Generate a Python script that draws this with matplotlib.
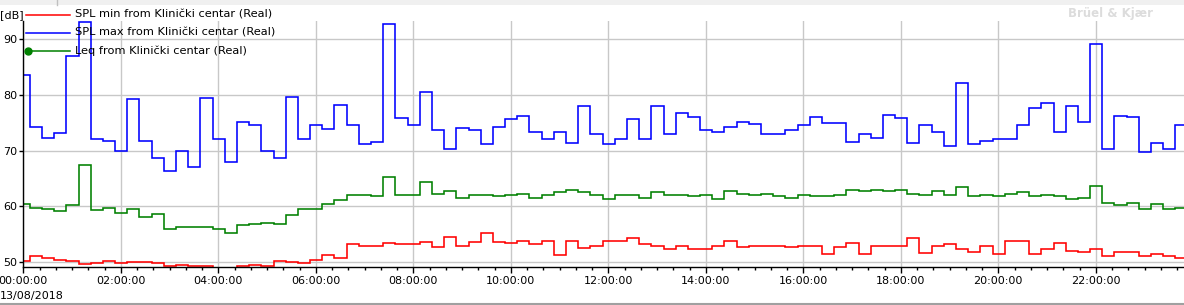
import numpy as np
import matplotlib
matplotlib.use('Agg')
import matplotlib.pyplot as plt
from matplotlib.lines import Line2D
from matplotlib.patches import Rectangle

# 15 minute intervals, first one starts at 23:53 of the previous day (-7 min)
first_edge_min = -7
step_min = 15

spl_max = [83.6, 74.3, 72.3, 73.2, 87.0, 93.1, 72.0, 71.7, 70.0, 79.3,
           71.8, 68.75, 66.4, 70.0, 67.0, 79.5, 72.0, 68.0, 75.2, 74.6,
           70.0, 68.75, 79.6, 72.1, 74.6, 73.9, 78.2, 74.5, 71.25, 71.6,
           92.7, 75.9, 74.6, 80.5, 73.75, 70.2, 74.1, 73.75, 71.1, 74.3,
           75.7, 76.25, 73.4, 72.1, 73.4, 71.4, 77.9, 73.0, 71.25, 72.0,
           75.7, 72.1, 78.0, 72.9, 76.8, 76.1, 73.75, 73.4, 74.3,
           75.2, 74.8, 73.0, 73.0, 73.75, 74.6, 76.1, 75.0, 75.0, 71.6,
           72.9, 72.3, 76.4, 75.9, 71.4, 74.5, 73.4, 70.9, 82.1,
           71.1, 71.8, 72.0, 72.1, 74.5, 77.7, 78.6, 73.4, 78.0, 75.2,
           89.1, 70.2, 76.25, 76.1, 69.8, 71.4, 70.2, 74.5]

leq = [60.4, 59.8, 59.6, 59.1, 60.2, 67.5, 59.3, 59.8, 58.9, 59.6,
       58.2, 58.6, 55.9, 56.25, 56.25, 56.4, 55.9, 55.2, 56.6, 56.8,
       57.0, 56.8, 58.4, 59.5, 59.6, 60.5, 61.1, 62.1, 62.1, 61.8,
       65.2, 62.1, 62.1, 64.3, 62.3, 62.7, 61.6, 62.0, 62.0, 61.8,
       62.0, 62.3, 61.6, 62.0, 62.5, 62.9, 62.5, 62.0, 61.4, 62.0,
       62.1, 61.6, 62.5, 62.0, 62.1, 61.8, 62.0, 61.4, 62.7,
       62.3, 62.1, 62.3, 61.8, 61.6, 62.0, 61.8, 61.8, 62.1, 62.9,
       62.7, 62.9, 62.7, 62.9, 62.3, 62.0, 62.7, 62.1, 63.4,
       61.8, 62.1, 61.8, 62.3, 62.5, 61.8, 62.0, 61.8, 61.4, 61.6,
       63.6, 60.7, 60.2, 60.7, 59.6, 60.5, 59.6, 59.8]

spl_min = [50.3, 51.2, 50.7, 50.5, 50.2, 49.7, 49.9, 50.2, 49.9, 50.0,
           50.0, 49.85, 49.35, 49.5, 49.35, 49.3, 48.8, 48.8, 49.4, 49.6,
           49.3, 50.2, 50.0, 49.85, 50.4, 51.3, 50.7, 53.2, 53.0, 52.85,
           53.4, 53.2, 53.2, 53.6, 52.7, 54.5, 52.85, 53.6, 55.2, 53.6,
           53.4, 53.9, 53.2, 53.75, 51.3, 53.75, 52.5, 52.85, 53.75, 53.9,
           54.3, 53.2, 53.0, 52.3, 52.85, 52.3, 52.3, 52.85, 53.75,
           52.7, 52.85, 53.0, 53.0, 52.7, 53.0, 52.85, 51.4, 52.7, 53.4,
           51.4, 52.85, 53.0, 52.85, 54.3, 51.6, 53.0, 53.2, 52.3,
           51.9, 53.0, 51.4, 53.75, 53.75, 51.4, 52.3, 53.4, 52.1, 51.8,
           52.3, 51.2, 51.8, 51.8, 51.2, 51.4, 51.2, 50.7]

tick_labels = ['00:00:00', '02:00:00', '04:00:00', '06:00:00', '08:00:00', '10:00:00',
               '12:00:00', '14:00:00', '16:00:00', '18:00:00', '20:00:00', '22:00:00']
date_label = '13/08/2018'
legend_labels = ['SPL min from Klinički centar (Real)',
                 'SPL max from Klinički centar (Real)',
                 'Leq from Klinički centar (Real)']
colors = ['#ff0000', '#0000ff', '#008000']

W, H = 1184, 305
fig = plt.figure(figsize=(W / 100, H / 100), dpi=100)
plt.rcParams['font.family'] = 'DejaVu Sans'

# window chrome: grey strip on top, line at the bottom
fig.add_artist(Rectangle((0, 1 - 5 / H), 1, 5 / H, transform=fig.transFigure,
                         color='#f0f0f0', lw=0))
fig.add_artist(Line2D([57 / W, 57 / W], [1 - 5 / H, 1], transform=fig.transFigure,
                      color='#c0c0c0', lw=1))
fig.add_artist(Line2D([0, 1], [1.5 / H, 1.5 / H], transform=fig.transFigure,
                      color='#a0a0a0', lw=1.5))

ax_left, ax_top, ax_bottom = 23.3, 21, 267
ax = fig.add_axes([ax_left / W, (H - ax_bottom) / H, 1 - ax_left / W, (ax_bottom - ax_top) / H])

edges = first_edge_min + step_min * np.arange(len(spl_max) + 1)
ax.stairs(spl_min, edges, baseline=None, color=colors[0], lw=1.15)
ax.stairs(spl_max, edges, baseline=None, color=colors[1], lw=1.15)
ax.stairs(leq, edges, baseline=None, color=colors[2], lw=1.15)

px_per_min = 48.75 / 60
ax.set_xlim(0, (W - ax_left) / px_per_min)
ax.set_ylim(49.16, 93.2)

ax.set_xticks(np.arange(len(tick_labels)) * 120)
ax.set_xticklabels(tick_labels, fontsize=8)
ax.set_xticks(np.arange(0, 1440, 20), minor=True)
ax.set_yticks([50, 60, 70, 80, 90])
ax.tick_params(axis='y', labelsize=8, length=3, width=1, pad=1.5)
ax.tick_params(axis='x', which='major', length=4, width=1, pad=2.5)
ax.tick_params(axis='x', which='minor', length=2.5, width=1)
ax.grid(True, which='major', color='#c8c8c8', lw=1)
ax.set_axisbelow(True)
for side in ['top', 'right']:
    ax.spines[side].set_visible(False)
for side in ['left', 'bottom']:
    ax.spines[side].set_color('black')
    ax.spines[side].set_linewidth(1)

fig.text(0, 1 - 296 / H, date_label, fontsize=8, ha='left', va='center')
fig.text(0, 1 - 15 / H, '[dB]', fontsize=8, ha='left', va='center')

# legend drawn by hand at the top left
for i, (lab, col) in enumerate(zip(legend_labels, colors)):
    y = 1 - (14.7 + 18 * i) / H
    fig.add_artist(Line2D([26 / W, 70 / W], [y, y], transform=fig.transFigure,
                          color=col, lw=1.1))
    if i == 2:
        fig.add_artist(Line2D([28 / W], [y], transform=fig.transFigure, color=col,
                              marker='o', markersize=5))
    fig.text(75 / W, y, lab, fontsize=8.2, ha='left', va='center')

fig.text(1153 / W, 1 - 13 / H, 'Brüel & Kjær', fontsize=8.5, fontweight='bold',
         color='#dcdcdc', ha='right', va='center')

fig.savefig('out.png', dpi=100)
